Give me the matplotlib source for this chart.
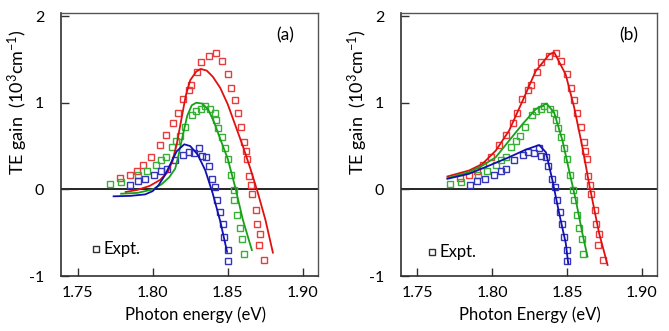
import matplotlib
matplotlib.use("Agg")
import matplotlib.pyplot as plt

plt.rcParams['font.family'] = ['Lato', 'DejaVu Sans']
plt.rcParams['mathtext.fontset'] = 'custom'
plt.rcParams['mathtext.rm'] = 'Lato'
plt.rcParams['mathtext.it'] = 'Lato:italic'

# experimental points (same in both panels)
red_x = [1.7784, 1.7847, 1.7896, 1.7936, 1.7991, 1.8047, 1.8091, 1.8136, 1.8167, 1.8200,
         1.8240, 1.8258, 1.8296, 1.8324, 1.8378, 1.8424, 1.8462, 1.8498, 1.8524, 1.8547,
         1.8567, 1.8591, 1.8611, 1.8622, 1.8631, 1.8640, 1.8651, 1.8658, 1.8687, 1.8696,
         1.8711, 1.8707, 1.8738]
red_y = [0.136, 0.163, 0.213, 0.279, 0.376, 0.508, 0.624, 0.767, 0.887, 1.039,
         1.151, 1.209, 1.357, 1.465, 1.543, 1.578, 1.481, 1.329, 1.174, 1.035,
         0.884, 0.717, 0.550, 0.446, 0.345, 0.151, 0.050, -0.050, -0.233, -0.395,
         -0.516, -0.640, -0.810]

green_x = [1.7718, 1.7791, 1.7902, 1.7962, 1.8022, 1.8056, 1.8089, 1.8127, 1.8158, 1.8184,
           1.8218, 1.8262, 1.8291, 1.8324, 1.8347, 1.8384, 1.8413, 1.8424, 1.8436, 1.8458,
           1.8480, 1.8498, 1.8520, 1.8540, 1.8544, 1.8564, 1.8582, 1.8596, 1.8609]
green_y = [0.066, 0.081, 0.167, 0.213, 0.279, 0.337, 0.368, 0.484, 0.562, 0.616,
           0.725, 0.860, 0.903, 0.926, 0.965, 0.926, 0.880, 0.802, 0.705, 0.601,
           0.477, 0.349, 0.167, -0.012, -0.128, -0.291, -0.446, -0.574, -0.744]

blue_x = [1.7851, 1.7900, 1.7951, 1.8011, 1.8058, 1.8093, 1.8147, 1.8204, 1.8240, 1.8276,
          1.8311, 1.8327, 1.8358, 1.8373, 1.8396, 1.8416, 1.8431, 1.8449, 1.8467, 1.8476,
          1.8502, 1.8502]
blue_y = [0.054, 0.093, 0.124, 0.167, 0.213, 0.240, 0.337, 0.395, 0.426, 0.422,
          0.473, 0.384, 0.368, 0.275, 0.120, 0.031, -0.128, -0.260, -0.399, -0.547,
          -0.698, -0.826]

# calculated curves, panel (a)
a_red_x = [1.782, 1.790, 1.798, 1.805, 1.810, 1.813, 1.816, 1.819, 1.822, 1.825, 1.829,
           1.832, 1.836, 1.840, 1.845, 1.850, 1.855, 1.860, 1.865, 1.870, 1.875, 1.880]
a_red_y = [-0.03, -0.005, 0.04, 0.11, 0.20, 0.32, 0.52, 0.80, 1.08, 1.26, 1.36,
           1.39, 1.37, 1.30, 1.17, 0.98, 0.74, 0.50, 0.24, -0.04, -0.35, -0.73]
a_green_x = [1.779, 1.790, 1.800, 1.806, 1.811, 1.815, 1.817, 1.820, 1.823, 1.826,
             1.829, 1.833, 1.837, 1.841, 1.845, 1.850, 1.855, 1.860, 1.866]
a_green_y = [-0.05, -0.04, 0.0, 0.06, 0.14, 0.24, 0.38, 0.62, 0.85, 0.97,
             1.00, 0.99, 0.92, 0.77, 0.58, 0.35, 0.02, -0.35, -0.70]
a_blue_x = [1.774, 1.785, 1.795, 1.800, 1.804, 1.808, 1.812, 1.816, 1.821, 1.825,
            1.830, 1.835, 1.840, 1.845, 1.8495]
a_blue_y = [-0.08, -0.075, -0.058, -0.02, 0.05, 0.16, 0.30, 0.44, 0.52, 0.50,
            0.40, 0.22, -0.05, -0.37, -0.72]

# calculated curves, panel (b)
b_red_x = [1.770, 1.7845, 1.7934, 1.8023, 1.8112, 1.8202, 1.829, 1.838, 1.8413, 1.849,
           1.8547, 1.8602, 1.8651, 1.8714, 1.877]
b_red_y = [0.149, 0.218, 0.294, 0.447, 0.677, 1.021, 1.365, 1.556, 1.583, 1.327,
           0.945, 0.486, 0.027, -0.509, -0.872]
b_green_x = [1.770, 1.7845, 1.7934, 1.8023, 1.8112, 1.8202, 1.829, 1.8362, 1.8413, 1.8469,
             1.8513, 1.8558, 1.8602, 1.8636]
b_green_y = [0.130, 0.199, 0.275, 0.371, 0.562, 0.753, 0.925, 0.990, 0.887, 0.562,
             0.218, -0.126, -0.509, -0.776]
b_blue_x = [1.770, 1.7845, 1.7979, 1.8112, 1.8224, 1.8313, 1.8358, 1.8402, 1.8447, 1.8491,
            1.8507]
b_blue_y = [0.122, 0.180, 0.275, 0.371, 0.459, 0.512, 0.428, 0.103, -0.279, -0.623,
            -0.853]

x_ticks = [1.75, 1.80, 1.85, 1.90]
y_ticks = [-1, 0, 1, 2]

line_cols = ['#e01010', '#18a018', '#1010b0']
mark_cols = ['#e83c3c', '#38b038', '#3434bc']

fig = plt.figure(figsize=(6.69, 3.31), dpi=100)
ax_a = fig.add_axes([0.0912, 0.166, 0.3841, 0.796])
ax_b = fig.add_axes([0.5994, 0.166, 0.3826, 0.796])

panels = [
    (ax_a, [(a_red_x, a_red_y), (a_green_x, a_green_y), (a_blue_x, a_blue_y)],
     '(a)', 1.888, 'Photon energy (eV)', 0.525, (1.7622, -0.69)),
    (ax_b, [(b_red_x, b_red_y), (b_green_x, b_green_y), (b_blue_x, b_blue_y)],
     '(b)', 1.891, 'Photon Energy (eV)', 0.504, (1.7594, -0.727)),
]

expt = [(red_x, red_y), (green_x, green_y), (blue_x, blue_y)]

for ax, curves, tag, tag_x, xlab, xlab_pos, leg in panels:
    ax.axhline(0, color='black', lw=1.2, zorder=1)
    for (ex, ey), mc in zip(expt, mark_cols):
        ax.plot(ex, ey, ls='none', marker='s', ms=5.0, mfc='none',
                mec=mc, mew=1.0, zorder=2)
    for (cx, cy), lc in zip(curves, line_cols):
        ax.plot(cx, cy, color=lc, lw=1.3, zorder=3)

    ax.plot([leg[0]], [leg[1]], ls='none', marker='s', ms=5.0, mfc='none',
            mec='#303030', mew=1.0)
    ax.text(leg[0] + 0.005, leg[1], 'Expt.', fontsize=12, va='center', ha='left')
    ax.text(tag_x, 1.78, tag, fontsize=12.5, ha='center', va='center')

    ax.set_xlim(1.739, 1.910)
    ax.set_ylim(-1.0, 2.04)
    ax.set_xticks(x_ticks)
    ax.set_xticklabels(['%.2f' % v for v in x_ticks])
    ax.set_yticks(y_ticks)
    ax.set_yticklabels([str(v) for v in y_ticks])
    ax.tick_params(axis='both', direction='in', length=6, width=1.0,
                   labelsize=11.5, colors='#303030', labelcolor='black')
    ax.tick_params(axis='x', pad=7)
    ax.tick_params(axis='y', pad=12)
    for side in ['left', 'bottom']:
        ax.spines[side].set_color('#303030')
        ax.spines[side].set_linewidth(1.2)
    for side in ['top', 'right']:
        ax.spines[side].set_color('#555555')
        ax.spines[side].set_linewidth(1.0)

    ax.set_xlabel(xlab, fontsize=12)
    ax.xaxis.set_label_coords(xlab_pos, -0.115)
    ax.set_ylabel('TE gain  (10$^{3}$cm$^{-1}$)', fontsize=13)
    ax.yaxis.set_label_coords(-0.12, 0.66)

fig.savefig('out.png', dpi=100)
